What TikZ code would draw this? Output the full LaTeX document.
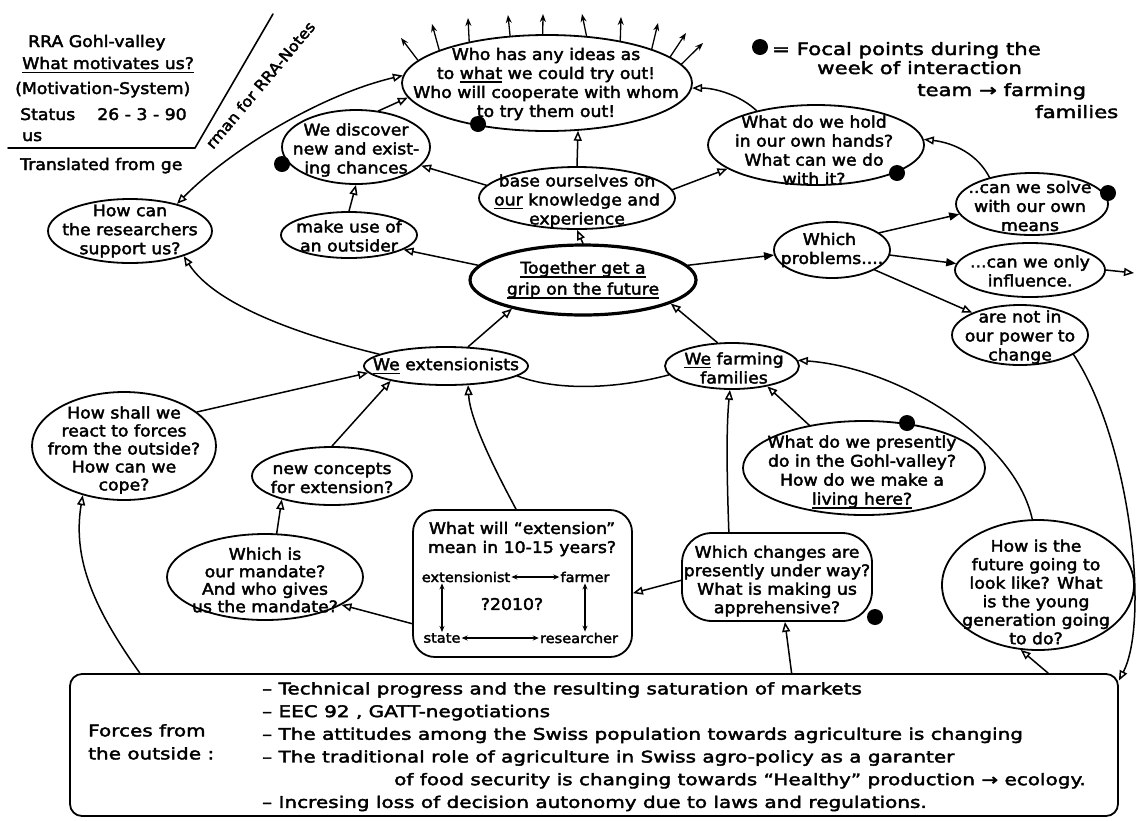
\documentclass[tikz,border=0pt]{standalone}
\usepackage{fontspec}
\setmainfont{DejaVu Sans}[FakeStretch=1.08,FakeBold=2.5]
\newfontfamily\widefont{DejaVu Sans}[FakeStretch=1.25,FakeBold=2.5]
\usetikzlibrary{shapes.geometric,arrows.meta}
% thick hand-style underline
\newcommand\hul[1]{\setbox0=\hbox{#1}\rlap{\vrule width\wd0 height-2.5pt depth4pt}\box0\relax}

\begin{document}
\begin{tikzpicture}[x=1pt,y=-1pt,line cap=round,line join=round,
  bubble/.style={ellipse,draw,line width=1.8pt,inner sep=0pt},
  card/.style={rectangle,draw,line width=1.8pt,inner sep=0pt},
  txt/.style={align=center,inner sep=0pt,font=\fontsize{16}{19}\selectfont},
  note/.style={inner sep=0pt,font=\fontsize{16}{19}\selectfont},
  widenote/.style={inner sep=0pt,font=\widefont\fontsize{17}{20}\selectfont},
  small/.style={inner sep=1pt,font=\fontsize{13.5}{16}\selectfont},
  link/.style={line width=1.5pt,-{Triangle[open,length=10pt,width=8pt]}},
  link2/.style={line width=1.5pt,{Triangle[open,length=10pt,width=8pt]}-{Triangle[open,length=10pt,width=8pt]}},
  flink/.style={line width=1.5pt,-{Triangle[length=10pt,width=8pt]}},
  plain/.style={line width=1.5pt},
  ray/.style={line width=1.3pt,-{Stealth[length=8pt,width=6pt]}},
  twoway/.style={line width=1.2pt,{Stealth[length=6pt,width=5pt]}-{Stealth[length=6pt,width=5pt]}},
  focal/.style={circle,fill,inner sep=0pt,minimum size=16pt},
]
\useasboundingbox (0,0) rectangle (1137,820);
\fill[white] (0,0) rectangle (1137,820);

% ---------- title block ----------
\node[note,anchor=base west] (t1) at (28,47) {RRA Gohl-valley};
\node[note,anchor=base west] (t2) at (22,69) {\hul{What motivates us?}};
\node[note,anchor=base west] (t3) at (15,94) {(Motivation-System)};
\node[note,anchor=base west] (t4) at (20,120) {Status\hspace{22pt}26 - 3 - 90};
\node[note,anchor=base west] (t5) at (22,141) {us};
\draw[line width=1.6pt] (8,148) -- (195,148) -- (273,14);
\node[note,anchor=base west] (t6) at (20,170) {Translated from ge};
\node[note,anchor=base west,rotate=50,font=\fontsize{15}{18}\selectfont] (t7) at (213,150) {rman for RRA-Notes};

% ---------- legend ----------
\node[focal] (lg) at (760,47) {};
\node[widenote,anchor=base west] (l1) at (772,55) {= Focal points during the};
\node[widenote,anchor=base west] (l2) at (817,74) {week of interaction};
\node[widenote,anchor=base west] (l3) at (917,96) {team → farming};
\node[widenote,anchor=base west] (l4) at (1035,118) {families};

% ---------- bubbles ----------
\node[bubble,minimum width=290pt,minimum height=96pt] (W) at (547,83) {};
\node[txt] at (546,84) {Who has any ideas as\\to \hul{what} we could try out!\\Who will cooperate with whom\\to try them out!};

\node[bubble,minimum width=148pt,minimum height=74pt] (D) at (356,147) {};
\node[txt] at (356,150) {We discover\\new and exist-\\ing chances};

\node[bubble,minimum width=196pt,minimum height=62pt] (B) at (577,198) {};
\node[txt] at (577,201) {base ourselves on\\\hul{our} knowledge and\\experience};

\node[bubble,minimum width=216pt,minimum height=80pt] (H) at (816,145) {};
\node[txt] at (814,150) {What do we hold\\in our own hands?\\What can we do\\with it?};

\node[bubble,minimum width=164pt,minimum height=64pt] (R) at (130,231) {};
\node[txt] at (130,231) {How can\\the researchers\\support us?};

\node[bubble,minimum width=136pt,minimum height=46pt] (O) at (349,235) {};
\node[txt] at (349,236) {make use of\\an outsider};

\node[bubble,line width=3.2pt,minimum width=226pt,minimum height=70pt] (T) at (583,280) {};
\node[txt,font=\fontsize{16}{21}\selectfont] at (583,280) {\hul{Together get a}\\\hul{grip on the future}};

\node[bubble,minimum width=116pt,minimum height=56pt] (P) at (832,250) {};
\node[txt,align=left] at (832,250) {\hspace*{22pt}Which\\problems....};

\node[bubble,minimum width=152pt,minimum height=62pt] (S) at (1032,204) {};
\node[txt] at (1030,206) {..can we solve\\with our own\\means};

\node[bubble,minimum width=150pt,minimum height=54pt] (I) at (1030,270) {};
\node[txt] at (1030,271) {...can we only\\influence.};

\node[bubble,minimum width=136pt,minimum height=60pt] (N) at (1020,335) {};
\node[txt] at (1020,337) {are not in\\our power to\\change};

\node[bubble,minimum width=164pt,minimum height=38pt] (E) at (446,366) {};
\node[txt] at (446,366) {\hul{We} extensionists};

\node[bubble,minimum width=134pt,minimum height=46pt] (F) at (732,366) {};
\node[txt] at (734,368) {\hul{We} farming\\families};

\node[bubble,minimum width=184pt,minimum height=108pt] (C) at (124,446) {};
\node[txt,font=\fontsize{16}{18}\selectfont] at (124,450) {How shall we\\react to forces\\from the outside?\\How can we\\cope?};

\node[bubble,minimum width=160pt,minimum height=58pt] (K) at (332,476) {};
\node[txt] at (332,478) {new concepts\\for extension?};

\node[bubble,minimum width=196pt,minimum height=86pt] (M) at (265,577) {};
\node[txt,font=\fontsize{16}{17.5}\selectfont] at (265,580) {Which is\\our mandate?\\And who gives\\us the mandate?};

\node[card,rounded corners=22pt,minimum width=219pt,minimum height=147pt] (X) at (522.5,583.5) {};
\node[txt] at (522,539) {What will “extension”\\mean in 10-15 years?};
\node[small] (ex) at (466,577) {extensionist};
\node[small] (fa) at (585,577) {farmer};
\node[small] (st) at (442,638) {state};
\node[small] (re) at (579,638) {researcher};
\node[small,font=\fontsize{16}{18}\selectfont] (yr) at (512,604) {?2010?};
\draw[twoway] (ex.east) -- (fa.west);
\draw[twoway] (ex.south -| st.north) -- (st.north);
\draw[twoway] (fa.south) -- (fa.south |- re.north);
\draw[twoway] (st.east) -- (re.west);

\node[card,rounded corners=30pt,minimum width=190pt,minimum height=88pt] (G) at (777,577) {};
\node[txt,font=\fontsize{16}{18.5}\selectfont] at (777,581) {Which changes are\\presently under way?\\What is making us\\apprehensive?};

\node[bubble,minimum width=242pt,minimum height=94pt] (V) at (864,468) {};
\node[txt] at (862,472) {What do we presently\\do in the Gohl-valley?\\How do we make a\\\hul{living here?}};

\node[bubble,minimum width=192pt,minimum height=130pt] (Fu) at (1038,585) {};
\node[txt,font=\fontsize{16}{18.5}\selectfont] at (1036,592) {How is the\\future going to\\look like? What\\is the young\\generation going\\to do?};

% ---------- forces from the outside ----------
\node[card,rounded corners=12pt,minimum width=1048pt,minimum height=142pt] (Box) at (594,745) {};
\node[widenote,anchor=north west,align=left,font=\widefont\fontsize{16}{23}\selectfont] (fo) at (88,724) {Forces from\\the outside :};
\node[widenote,anchor=north west,align=left,font=\widefont\fontsize{16}{22.7}\selectfont] (fl) at (262,682)
  {– Technical progress and the resulting saturation of markets\\
   – EEC 92 , GATT-negotiations\\
   – The attitudes among the Swiss population towards agriculture is changing\\
   – The traditional role of agriculture in Swiss agro-policy as a garanter\\
   \hspace*{132pt}of food security is changing towards “Healthy” production → ecology.\\
   – Incresing loss of decision autonomy due to laws and regulations.};

% ---------- focal points ----------
\node[focal] (fW) at (478,124) {};
\node[focal] (fD) at (282,164) {};
\node[focal] (fH) at (897,173) {};
\node[focal] (fS) at (1108,193) {};
\node[focal] (fV) at (907,423) {};
\node[focal] (fG) at (875,617) {};

% ---------- ideas spreading out ----------
\coordinate (r1) at (401,38);
\coordinate (r2) at (432,24);
\coordinate (r3) at (468,18);
\coordinate (r4) at (508,15);
\coordinate (r5) at (543,14);
\coordinate (r6) at (582,14);
\coordinate (r7) at (621,17);
\coordinate (r8) at (658,23);
\coordinate (r9) at (686,33);
\coordinate (r10) at (703,43);
\draw[ray] (W.170) -- (r1);
\draw[ray] (W.163) -- (r2);
\draw[ray] (W.152) -- (r3);
\draw[ray] (W.128) -- (r4);
\draw[ray] (W.95) -- (r5);
\draw[ray] (W.50) -- (r6);
\draw[ray] (W.30) -- (r7);
\draw[ray] (W.18) -- (r8);
\draw[ray] (W.12) -- (r9);
\draw[ray] (W.8) -- (r10);

% ---------- connectors ----------
\draw[link] (T.north) -- (B.south);
\draw[link] (T.172) -- (O.345);
\draw[flink] (T.8) -- (P.185);
\draw[link] (E.41) -- (T.202);
\draw[link] (F.122) -- (T.345);
\draw[plain] (E.352) .. controls (560,392) and (620,388) .. (F.188);
\draw[link] (O.north) -- (D.south);
\draw[link] (B.172) -- (D.344);
\draw[link] (B.5) -- (H.195);
\draw[link] (B.north) -- (W.303);
\draw[link] (D.58) -- (W.186);
\draw[link] (H.150) .. controls (740,95) and (715,88) .. (W.358);
\draw[link2] (R.30) .. controls (230,150) and (320,95) .. (W.177);
\draw[link] (E.170) .. controls (300,335) and (215,305) .. (R.335);
\draw[link] (C.25) -- (E.185);
\draw[link] (K.north) -- (E.195);
\draw[link] (X.95) .. controls (495,470) and (470,420) .. (E.319);
\draw[link] (M.75) -- (K.205);
\draw[link] (X.200) -- (M.340);
\draw[link] (G.182) -- (X.355);
\draw[link] (G.137) .. controls (727,480) and (726,430) .. (F.265);
\draw[link] (V.142) -- (F.330);
\draw[link] (Fu.95) .. controls (1015,440) and (900,368) .. (F.5);
\draw[link] (Box.20.2) -- (G.280);
\draw[link] (Box.9.8) -- (Fu.255);
\draw[link] (Box.171.3) .. controls (95,610) and (72,560) .. (C.230);
\draw[link] (N.340) .. controls (1130,440) and (1150,620) .. (Box.7);
\draw[flink] (P.20) -- (S.188);
\draw[flink] (P.355) -- (I.175);
\draw[link] (P.335) -- (N.155);
\draw[link] (S.148) .. controls (978,155) and (955,143) .. (H.3);
\coordinate (outI) at (1134,273);
\draw[link] (I.east) -- (outI);
\end{tikzpicture}
\end{document}
